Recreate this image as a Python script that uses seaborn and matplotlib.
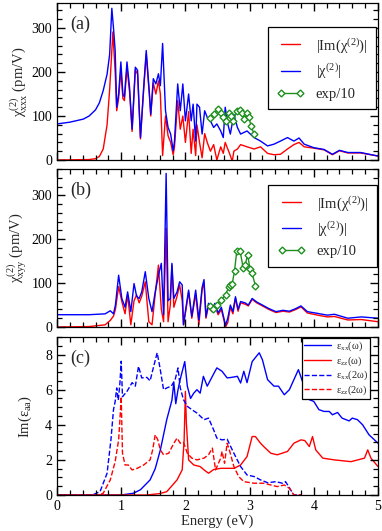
import numpy as np
import pandas as pd
import seaborn as sns
import matplotlib.pyplot as plt
from matplotlib.ticker import MultipleLocator

# ---- panel (a): chi_xxx ----
E_A = [0, 0.2, 0.41, 0.5, 0.6, 0.66, 0.72, 0.78, 0.82, 0.854, 0.88, 0.906, 0.93, 0.96, 0.995,
       1.026, 1.05, 1.09, 1.13, 1.17, 1.22, 1.255, 1.30, 1.35, 1.39, 1.44, 1.46, 1.50, 1.54,
       1.58, 1.61, 1.645, 1.69, 1.73, 1.77, 1.81, 1.83, 1.88, 1.92, 1.96, 2.0, 2.05, 2.09, 2.12,
       2.16, 2.18, 2.22, 2.26, 2.30, 2.34, 2.39, 2.44, 2.49, 2.55, 2.59, 2.62, 2.66, 2.70, 2.755,
       2.81, 2.86, 2.96, 3.07, 3.17, 3.28, 3.38, 3.48, 3.59, 3.69, 3.77, 3.85, 4.0, 4.16, 4.29,
       4.40, 4.53, 4.73, 5.0]
ABS_A = [82, 86, 93, 100, 114, 130, 158, 195, 240, 345, 300, 249, 120, 150, 223,
         150, 143, 223, 165, 70, 211, 204, 51, 165, 249, 150, 104, 185, 173,
         196, 169, 265, 112, 74, 59, 21, 43, 173, 112, 173, 89, 150, 89, 127,
         43, 127, 120, 59, 112, 97, 89, 74, 82, 66, 51, 120, 82, 59, 104,
         74, 59, 66, 51, 43, 32, 36, 43, 51, 43, 50, 36, 28, 24, 13,
         22, 17, 17, 9]
E_A_IM = [0, 0.5, 0.6, 0.66, 0.72, 0.78, 0.82, 0.87, 0.906, 0.93, 0.96, 0.995, 1.026, 1.05, 1.09,
          1.13, 1.17, 1.22, 1.255, 1.30, 1.35, 1.39, 1.44, 1.46, 1.50, 1.54, 1.58, 1.61, 1.645,
          1.67, 1.69, 1.73, 1.77, 1.81, 1.83, 1.88, 1.92, 1.96, 2.0, 2.05, 2.09, 2.12, 2.16, 2.18,
          2.22, 2.26, 2.30, 2.34, 2.39, 2.44, 2.49, 2.55, 2.59, 2.62, 2.66, 2.70, 2.73, 2.755,
          2.81, 2.86, 2.96, 3.07, 3.17, 3.28, 3.38, 3.48, 3.59, 3.69, 3.77, 3.85, 4.0, 4.16, 4.29,
          4.40, 4.53, 4.73, 5.0]
IM_A = [0, 1, 3, 8, 25, 80, 160, 291, 200, 112, 140, 205, 140, 135, 210,
        155, 65, 205, 195, 48, 160, 240, 145, 100, 175, 150, 180, 150, 10,
        60, 100, 55, 40, 12, 30, 135, 70, 100, 40, 110, 15, 70, 10, 80,
        40, 5, 60, 40, 20, 35, 0, 30, 15, 40, 25, 10, -3, 20,
        25, 35, 30, 25, 30, 15, 12, 13, 25, 35, 40, 30, 27, 23, 12,
        21, 16, 16, 9]
E_EXP_A = [2.38, 2.44, 2.505, 2.56, 2.59, 2.64, 2.68, 2.71, 2.745, 2.80, 2.85, 2.885, 2.92,
           2.96, 2.99, 3.02, 3.07]
EXP_A = [95, 104, 116, 108, 98, 89, 106, 101, 88, 112, 114, 108, 93, 106, 98, 78, 59]

# ---- panel (b): chi_xyy ----
E_B = [0, 0.5, 0.75, 0.83, 0.88, 0.91, 0.96, 1.01, 1.06, 1.10, 1.15, 1.20, 1.24, 1.28, 1.32,
       1.375, 1.43, 1.48, 1.53, 1.58, 1.625, 1.66, 1.70, 1.73, 1.765, 1.79, 1.82, 1.87, 1.91,
       1.95, 1.97, 2.01, 2.05, 2.10, 2.16, 2.21, 2.26, 2.29, 2.32, 2.36, 2.41, 2.46, 2.51, 2.56,
       2.625, 2.66, 2.70, 2.74, 2.78, 2.82, 2.86, 2.93, 2.98, 3.04, 3.11, 3.2, 3.3, 3.41, 3.52,
       3.62, 3.72, 3.80, 3.90, 4.06, 4.21, 4.32, 4.53, 4.74, 5.0]
ABS_B = [28, 28, 30, 37, 30, 50, 118, 65, 45, 80, 35, 99, 70, 65, 80,
         126, 65, 35, 80, 118, 145, 28, 350, 60, 65, 145, 65, 80, 103,
         96, 5, 46, 84, 24, 84, 16, 90, 108, 23, 54, 40, 54, 32, 45,
         4, 20, 50, 35, 69, 40, 58, 55, 50, 65, 57, 50, 42, 35, 38,
         36, 42, 48, 35, 31, 27, 29, 20, 23, 20]
IM_B = [0, 1, 5, 15, 25, 40, 92, 58, 30, 73, 5, 60, 73, 55, 70,
        103, 12, 5, 75, 141, 40, 12, 225, 12, 50, 141, 45, 70, 96,
        60, 5, 40, 80, 20, 75, 5, 85, 100, 20, 48, 35, 48, 28, 40,
        0, 10, 45, 30, 65, 36, 55, 52, 48, 63, 55, 48, 40, 33, 36,
        34, 40, 46, 32, 27, 23, 24, 16, 17, 12]
E_EXP_B = [2.38, 2.43, 2.49, 2.56, 2.625, 2.68, 2.70, 2.73, 2.765, 2.80, 2.85, 2.90, 2.93,
           2.97, 3.005, 3.04, 3.09]
EXP_B = [48, 42, 51, 61, 74, 92, 96, 99, 128, 173, 174, 135, 141, 165, 133, 122, 94]

# ---- panel (c): Im(eps) ----
E_XX1 = [0, 1.0, 1.19, 1.3, 1.45, 1.53, 1.61, 1.71, 1.79, 1.82, 1.85, 1.885, 1.92, 1.99, 2.03,
         2.08, 2.13, 2.18, 2.23, 2.28, 2.34, 2.42, 2.49, 2.57, 2.65, 2.72, 2.81, 2.86, 2.91, 2.96,
         3.04, 3.15, 3.2, 3.28, 3.38, 3.45, 3.54, 3.62, 3.69, 3.76, 3.85, 3.93, 4.0, 4.08, 4.16,
         4.24, 4.29, 4.37, 4.44, 4.55, 4.6, 4.68, 4.76, 4.86, 5.0]
XX1 = [0, 0, 0.1, 0.3, 0.86, 1.5, 2.57, 4.3, 5.4, 6.4, 5.2, 6.0, 6.6, 7.6, 6.2,
       5.5, 5.8, 6.0, 5.8, 6.76, 6.2, 6.76, 7.24, 7.05, 6.67, 6.7, 6.76, 6.38, 7.05, 6.4,
       7.6, 8.1, 7.7, 6.57, 6.2, 6.2, 5.71, 6.0, 6.57, 7.14, 6.19, 5.43, 5.33, 4.86, 4.76,
       4.76, 4.57, 4.7, 4.38, 4.22, 4.38, 4.29, 4.0, 3.43, 2.95]
E_ZZ1 = [0, 1.4, 1.6, 1.71, 1.87, 1.95, 1.98, 2.0, 2.015, 2.05, 2.13, 2.23, 2.29, 2.36, 2.44,
         2.55, 2.65, 2.76, 2.86, 2.96, 3.04, 3.09, 3.17, 3.22, 3.33, 3.43, 3.59, 3.69, 3.80,
         3.86, 3.93, 3.98, 4.03, 4.14, 4.32, 4.58, 4.79, 4.84, 4.89, 5.0]
ZZ1 = [0, 0, 0.08, 0.19, 0.86, 1.43, 3.1, 5.9, 4.1, 2.0, 1.71, 1.62, 1.43, 1.24, 1.45,
       1.52, 1.52, 1.52, 1.71, 2.19, 3.33, 3.33, 2.95, 2.76, 2.38, 2.29, 2.48, 2.95, 3.14,
       3.1, 2.76, 3.33, 2.57, 2.1, 2.0, 1.9, 2.1, 2.57, 2.1, 1.62]
E_XX2 = [0, 0.55, 0.67, 0.78, 0.84, 0.88, 0.906, 0.93, 0.955, 0.98, 1.0, 1.02, 1.09, 1.17,
         1.22, 1.27, 1.32, 1.40, 1.45, 1.48, 1.56, 1.60, 1.66, 1.71, 1.78, 1.84, 1.885, 1.92,
         1.97, 2.03, 2.10, 2.18, 2.29, 2.36, 2.44, 2.49, 2.57, 2.65, 2.755, 2.86, 2.96, 3.07,
         3.17, 3.28, 3.41, 3.51, 3.56, 3.64, 3.69, 3.8]
XX2 = [0, 0, 0.19, 1.24, 3.14, 4.86, 5.33, 6.1, 5.4, 6.38, 7.62, 5.6, 5.9, 6.4,
       6.2, 7.33, 6.67, 6.7, 6.5, 6.95, 8.1, 7.33, 6.0, 6.1, 6.2, 6.57, 7.24, 6.1,
       5.43, 5.05, 4.86, 4.67, 4.29, 4.38, 3.71, 3.24, 3.14, 3.18, 2.38, 1.62, 1.14, 1.05,
       0.86, 0.7, 0.76, 0.67, 0.76, 0.29, 0, 0]
E_ZZ2 = [0, 0.65, 0.72, 0.83, 0.906, 0.96, 0.98, 1.0, 1.02, 1.06, 1.11, 1.17, 1.25, 1.35,
         1.45, 1.49, 1.53, 1.57, 1.61, 1.66, 1.74, 1.82, 1.87, 1.92, 1.97, 2.03, 2.10, 2.18,
         2.29, 2.36, 2.42, 2.47, 2.55, 2.57, 2.61, 2.65, 2.69, 2.755, 2.83, 2.91, 3.07, 3.22,
         3.33, 3.43, 3.54, 3.62, 3.69, 3.8]
ZZ2 = [0, 0, 0.1, 0.86, 1.9, 3.14, 4.29, 5.6, 2.38, 1.71, 1.71, 1.43, 1.52, 1.71,
       2.0, 2.57, 3.43, 3.14, 2.57, 2.29, 2.38, 2.95, 3.24, 2.95, 3.0, 2.38, 2.1, 2.0,
       2.1, 2.29, 2.67, 1.43, 2.1, 2.48, 1.81, 2.95, 2.5, 1.62, 1.05, 0.76, 0.67, 0.67,
       0.57, 0.48, 0.57, 0.38, 0, 0]

RED = "#ff0000"
BLUE = "#0000ff"
GREEN = "#1f8f1f"

sns.set_style("ticks")
plt.rcParams.update({
    "font.family": ["Liberation Serif", "DejaVu Serif"],
    "mathtext.fontset": "stix",
    "mathtext.default": "regular",
    "xtick.direction": "in",
    "ytick.direction": "in",
    "xtick.top": True,
    "ytick.right": True,
    "xtick.major.size": 6,
    "ytick.major.size": 6,
    "xtick.minor.size": 3.5,
    "ytick.minor.size": 3.5,
    "xtick.major.width": 1.0,
    "ytick.major.width": 1.0,
    "xtick.minor.width": 0.9,
    "ytick.minor.width": 0.9,
    "xtick.color": "black",
    "ytick.color": "black",
    "axes.edgecolor": "black",
    "axes.linewidth": 0.9,
    "axes.axisbelow": False,
})

fig = plt.figure(figsize=(3.82, 5.31), dpi=100)
W = 382.0
H = 531.0


def make_ax(top, bottom):
    return fig.add_axes([57 / W, 1 - bottom / H, 321 / W, (bottom - top) / H])


ax_a = make_ax(3, 160)
ax_b = make_ax(169, 327)
ax_c = make_ax(337, 495)

LW = 1.0
sns.lineplot(x=E_A_IM, y=IM_A, color=RED, lw=LW, ax=ax_a, label=r"$|Im(\chi^{(2)})|$")
sns.lineplot(x=E_A, y=ABS_A, color=BLUE, lw=LW, ax=ax_a, label=r"$|\chi^{(2)}|$")
sns.lineplot(x=E_EXP_A, y=EXP_A, color=GREEN, lw=LW, marker="D", markersize=3.5,
             markerfacecolor="white", markeredgecolor=GREEN, markeredgewidth=1, ax=ax_a,
             label="exp/10")

sns.lineplot(x=E_B, y=IM_B, color=RED, lw=LW, ax=ax_b, label=r"$|Im(\chi^{(2)})|$")
sns.lineplot(x=E_B, y=ABS_B, color=BLUE, lw=LW, ax=ax_b, label=r"$|\chi^{(2)})|$")
sns.lineplot(x=E_EXP_B, y=EXP_B, color=GREEN, lw=LW, marker="D", markersize=3.5,
             markerfacecolor="white", markeredgecolor=GREEN, markeredgewidth=1, ax=ax_b,
             label="exp/10")

sns.lineplot(x=E_XX1, y=XX1, color=BLUE, lw=LW, ax=ax_c, label=r"$\epsilon_{xx}(\omega)$")
sns.lineplot(x=E_ZZ1, y=ZZ1, color=RED, lw=LW, ax=ax_c, label=r"$\epsilon_{zz}(\omega)$")
sns.lineplot(x=E_XX2, y=XX2, color=BLUE, lw=LW, ls="--", ax=ax_c, label=r"$\epsilon_{xx}(2\omega)$")
sns.lineplot(x=E_ZZ2, y=ZZ2, color=RED, lw=LW, ls="--", ax=ax_c, label=r"$\epsilon_{zz}(2\omega)$")

for ax, ymax, ymaj, ymin in [(ax_a, 357, 100, 20), (ax_b, 360, 100, 20), (ax_c, 9, 2, 0.5)]:
    ax.set_axisbelow(False)
    ax.minorticks_on()
    ax.set_xlim(0, 5)
    ax.set_ylim(0, ymax)
    ax.xaxis.set_major_locator(MultipleLocator(1))
    ax.xaxis.set_minor_locator(MultipleLocator(0.2))
    ax.yaxis.set_major_locator(MultipleLocator(ymaj))
    ax.yaxis.set_minor_locator(MultipleLocator(ymin))
    ax.tick_params(which="both", top=True, right=True, direction="in", labelsize=10)
    ax.tick_params(which="major", length=6, width=1.0, color="black")
    ax.tick_params(which="minor", length=3.5, width=0.9, color="black")

ax_a.tick_params(labelbottom=False)
ax_b.tick_params(labelbottom=False)

ax_a.set_ylabel(r"$\chi_{xxx}^{(2)}$ (pm/V)", fontsize=10.5, labelpad=2)
ax_b.set_ylabel(r"$\chi_{xyy}^{(2)}$ (pm/V)", fontsize=10.5, labelpad=2)
ax_c.set_ylabel(r"Im($\epsilon_{aa}$)", fontsize=10.5, labelpad=8)
ax_c.set_xlabel("Energy (eV)", fontsize=10.5, labelpad=1)

for ax, lab in [(ax_a, "(a)"), (ax_b, "(b)"), (ax_c, "(c)")]:
    ax.text(0.04, 0.92, lab, transform=ax.transAxes, fontsize=13, va="top", ha="left")

leg_kw = dict(loc="upper right", fancybox=False, framealpha=1, edgecolor="black",
              borderaxespad=0)
ax_a.legend(bbox_to_anchor=(0.994, 0.847), fontsize=10.5, handlelength=1.9,
            handletextpad=0.8, labelspacing=0.45, numpoints=2, borderpad=0.6, **leg_kw)
ax_b.legend(bbox_to_anchor=(0.997, 0.899), fontsize=10.5, handlelength=1.9,
            handletextpad=0.8, labelspacing=0.45, numpoints=2, borderpad=0.6, **leg_kw)
ax_c.legend(bbox_to_anchor=(0.975, 0.995), fontsize=7.5, handlelength=2.6,
            handletextpad=0.4, labelspacing=0.1, borderpad=0.2, **leg_kw)
for ax in (ax_a, ax_b, ax_c):
    ax.get_legend().get_frame().set_linewidth(0.9)

fig.savefig("out.png", dpi=100)
